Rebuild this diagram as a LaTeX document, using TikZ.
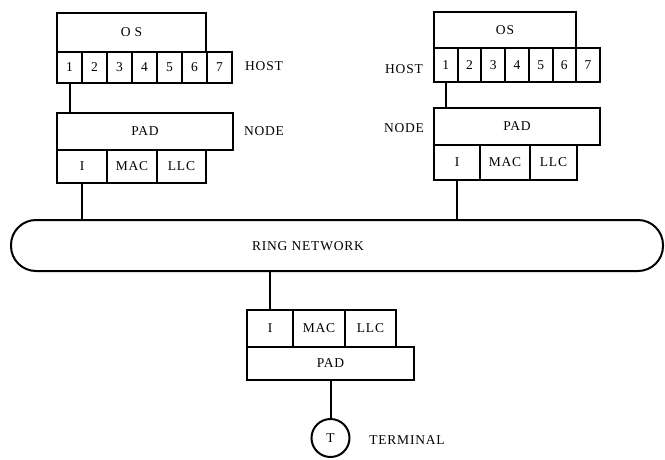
\documentclass[tikz,border=0pt]{standalone}
\usepackage{fontspec}
\setmainfont{Liberation Serif}[LetterSpace=6]
\usetikzlibrary{calc}
\tikzset{
  cell/.style={draw, line width=2pt, inner sep=0pt, font=\fontsize{13.5}{14}\selectfont},
  lbl/.style={inner sep=0pt, font=\fontsize{13.5}{14}\selectfont},
  wire/.style={line width=2pt},
}
\newcommand\mkbox[6]{%
  \node[cell, minimum width={((#4)-(#2))*1pt}, minimum height={((#5)-(#3))*1pt}] (#1) at ({((#2)+(#4))/2},{((#3)+(#5))/2}) {#6};}
\begin{document}
\begin{tikzpicture}[x=1pt,y=-1pt]
\useasboundingbox (0,0) rectangle (665,459);
% left host
\mkbox{los}{57}{13}{206}{52}{O S}
\foreach \i in {1,...,7}{
  \mkbox{lh\i}{57+25*(\i-1)}{52}{57+25*\i}{83}{\i}
}
\node[lbl] (lhost) at (264,66) {HOST};
\mkbox{lpad}{57}{113}{233}{150}{PAD}
\node[lbl] (lnode) at (264,131) {NODE};
\mkbox{lI}{57}{150}{107}{183}{I}
\mkbox{lmac}{107}{150}{157}{183}{MAC}
\mkbox{lllc}{157}{150}{206}{183}{LLC}
% right host
\mkbox{ros}{434}{12}{576}{48}{OS}
\foreach \i in {1,...,7}{
  \mkbox{rh\i}{434+23.7*(\i-1)}{48}{434+23.7*\i}{82}{\i}
}
\node[lbl] (rhost) at (404,69) {HOST};
\mkbox{rpad}{434}{108}{600}{145}{PAD}
\node[lbl] (rnode) at (404,128) {NODE};
\mkbox{rI}{434}{145}{480}{180}{I}
\mkbox{rmac}{480}{145}{530}{180}{MAC}
\mkbox{rllc}{530}{145}{577}{180}{LLC}
% ring
\node[draw, line width=2pt, rounded corners=25pt, minimum width=652pt, minimum height=51pt, inner sep=0pt] (ring) at (337,245.5) {};
\node[lbl] (ringlbl) at (308,246) {RING NETWORK};
% bottom
\mkbox{bI}{247}{310}{293}{347}{I}
\mkbox{bmac}{293}{310}{345}{347}{MAC}
\mkbox{bllc}{345}{310}{396}{347}{LLC}
\mkbox{bpad}{247}{347}{414}{380}{PAD}
\node[draw, circle, line width=2pt, minimum size=38pt, inner sep=0pt, font=\fontsize{13.5}{14}\selectfont] (term) at (330.5,438) {T};
\node[lbl] (termlbl) at (407,440) {TERMINAL};
% wires
\draw[wire] (lh1.south) -- (lh1.south |- lpad.north);
\draw[wire] (lI.south) -- (lI.south |- ring.north);
\draw[wire] (rh1.south) -- (rh1.south |- rpad.north);
\draw[wire] (rI.south) -- (rI.south |- ring.north);
\draw[wire] (bI.north |- ring.south) -- (bI.north);
\draw[wire] (bpad.south) -- (term.north);
\end{tikzpicture}
\end{document}
